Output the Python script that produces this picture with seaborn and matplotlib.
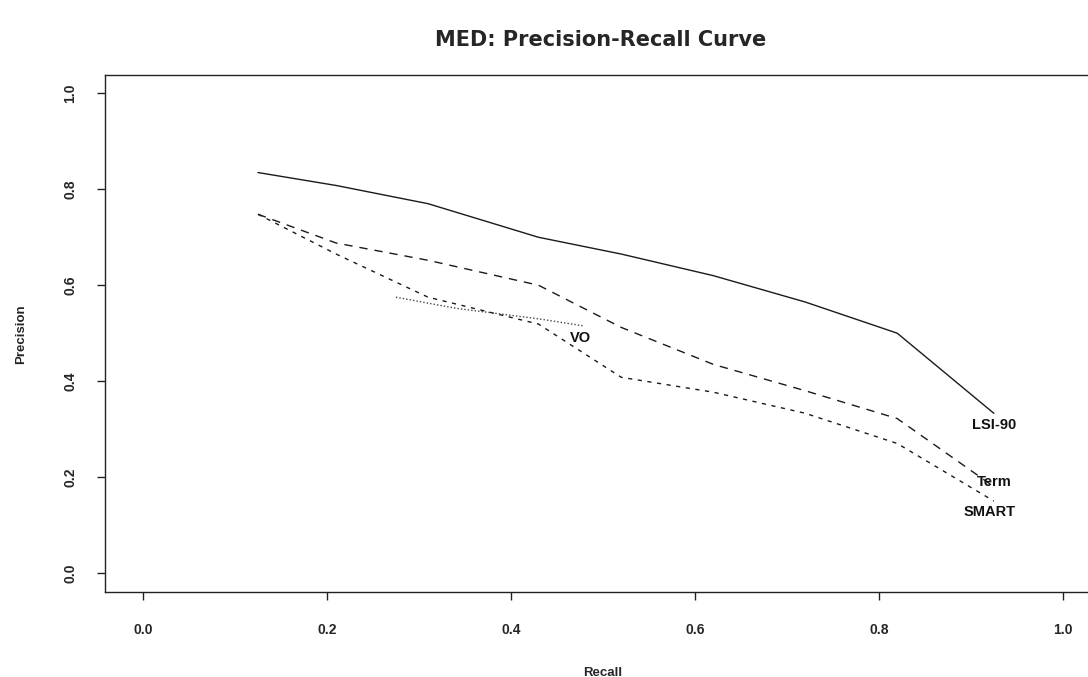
import pandas as pd
import matplotlib
matplotlib.use("Agg")
import matplotlib.pyplot as plt
import seaborn as sns

# values
methods = ["LSI-90", "Term", "SMART", "VO"]

recall_lsi = [0.125, 0.21, 0.31, 0.43, 0.52, 0.62, 0.72, 0.82, 0.925]
prec_lsi = [0.835, 0.808, 0.77, 0.70, 0.665, 0.62, 0.565, 0.50, 0.333]

recall_term = [0.125, 0.21, 0.31, 0.43, 0.52, 0.62, 0.72, 0.82, 0.925]
prec_term = [0.748, 0.688, 0.652, 0.60, 0.512, 0.435, 0.38, 0.322, 0.18]

recall_smart = [0.125, 0.21, 0.31, 0.43, 0.52, 0.62, 0.72, 0.82, 0.925]
prec_smart = [0.748, 0.665, 0.575, 0.519, 0.408, 0.377, 0.333, 0.27, 0.15]

recall_vo = [0.275, 0.34, 0.43, 0.48]
prec_vo = [0.575, 0.552, 0.53, 0.515]

# label anchors (recall, precision)
label_x = [0.925, 0.925, 0.92, 0.476]
label_y = [0.308, 0.19, 0.127, 0.49]

xticks = [0.0, 0.2, 0.4, 0.6, 0.8, 1.0]
yticks = [0.0, 0.2, 0.4, 0.6, 0.8, 1.0]

frames = []
for name, r, p in zip(methods,
                      [recall_lsi, recall_term, recall_smart, recall_vo],
                      [prec_lsi, prec_term, prec_smart, prec_vo]):
    frames.append(pd.DataFrame({"Recall": r, "Precision": p, "Method": name}))
df = pd.concat(frames, ignore_index=True)

sns.set_theme(style="white")
plt.rcParams['font.family'] = ['Liberation Sans', 'DejaVu Sans']

fig = plt.figure(figsize=(10.88, 6.77), dpi=100)
ax = fig.add_axes([0.0965, 0.1256, 0.915, 0.763])

palette = {"LSI-90": "#1a1a1a", "Term": "#1a1a1a", "SMART": "#1a1a1a", "VO": "#444444"}
dashes = {"LSI-90": "", "Term": (6, 5), "SMART": (3, 4), "VO": (1, 1.5)}

sns.lineplot(data=df, x="Recall", y="Precision", hue="Method", style="Method",
             palette=palette, dashes=dashes, estimator=None, sort=False,
             linewidth=1.0, legend=False, ax=ax)

for name, lx, ly in zip(methods, label_x, label_y):
    ax.text(lx, ly, name, ha="center", va="center", fontsize=10.5,
            fontweight="bold", color="#111111")

ax.set_xlim(-0.0413, 1.041)
ax.set_ylim(-0.0396, 1.0375)
ax.set_xticks(xticks)
ax.set_yticks(yticks)
ax.set_xticklabels([f"{v:.1f}" for v in xticks], fontsize=10, fontweight="bold")
ax.set_yticklabels([f"{v:.1f}" for v in yticks], fontsize=10, fontweight="bold",
                   rotation=90, va="center")
ax.tick_params(axis="both", direction="out", length=6, width=1, color="#222222",
               bottom=True, left=True)
ax.tick_params(axis="x", pad=16)
ax.tick_params(axis="y", pad=14)

for side in ["left", "bottom", "top", "right"]:
    ax.spines[side].set_color("#222222")
    ax.spines[side].set_linewidth(1.0)

ax.set_xlabel("Recall", fontsize=9.5, fontweight="bold", labelpad=22)
ax.set_ylabel("Precision", fontsize=9.5, fontweight="bold", labelpad=26)
fig.suptitle("MED: Precision-Recall Curve", fontsize=15, fontweight="bold",
             family="DejaVu Sans", y=0.955, x=0.552)

fig.savefig("out.png", dpi=100)
